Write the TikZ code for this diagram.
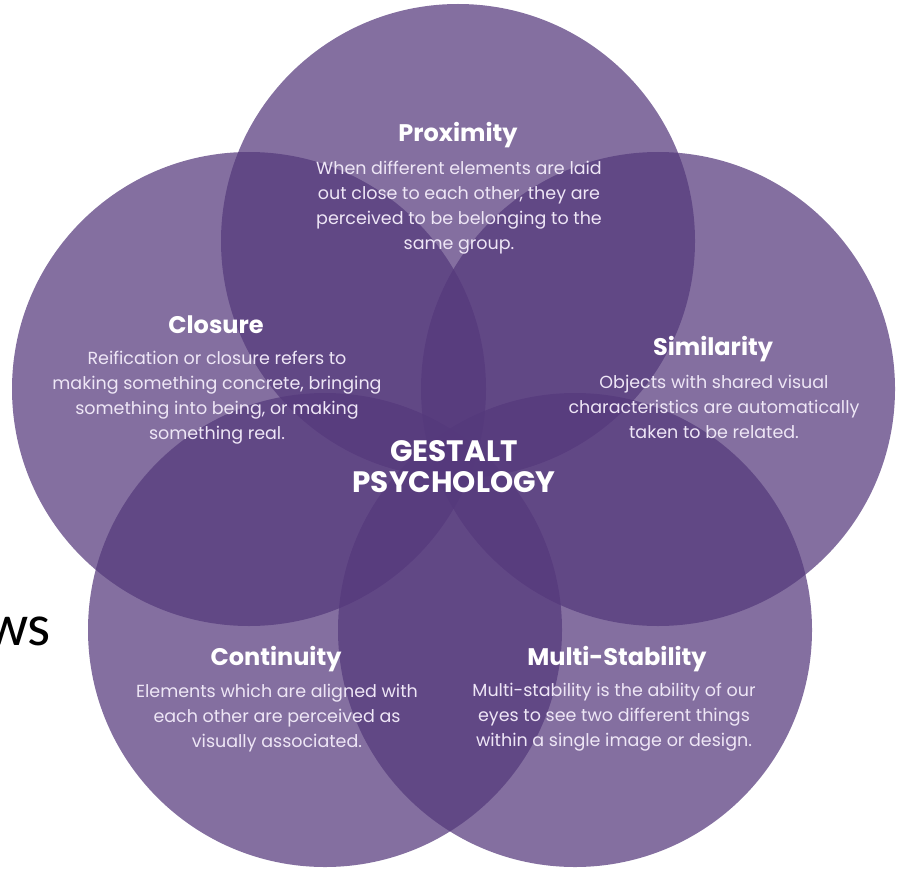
\documentclass[tikz,border=0pt]{standalone}
\usepackage{fontspec}
\setmainfont{Poppins}
\newfontfamily\sidefont{Carlito}
\definecolor{petal}{HTML}{54387B}
\definecolor{blurbink}{HTML}{EEE6F6}
\tikzset{
  petal/.style={fill=petal, fill opacity=0.72},
  heading/.style={text=white, font=\fontsize{24}{28}\selectfont\bfseries, inner sep=0pt, anchor=base},
  blurb/.style={text=blurbink, font=\fontsize{17.5}{25}\selectfont, align=center, inner sep=0pt},
  core/.style={text=white, font=\fontsize{29.5}{31}\selectfont\bfseries, align=center, inner sep=0pt},
}
\begin{document}
\begin{tikzpicture}[x=1pt,y=-1pt]
\useasboundingbox (0,0) rectangle (901,869);

% five overlapping petals
\fill[petal] (458,241) circle (237pt);
\fill[petal] (249,389) circle (237pt);
\fill[petal] (658,389) circle (237pt);
\fill[petal] (325,630) circle (237pt);
\fill[petal] (575,630) circle (237pt);

% fragment of a word at the left edge
\node[anchor=base east, inner sep=0pt, font=\sidefont\fontsize{59}{60}\selectfont] (side) at (51,645) {ws};

% headings
\node[heading] (proxT) at (458,142) {Proximity};
\node[heading] (closT) at (216,333) {Closure};
\node[heading] (simT) at (713,355) {Similarity};
\node[heading] (contT) at (276,665) {Continuity};
\node[heading] (multT) at (617,665) {Multi-Stability};

% descriptions
\node[blurb] (proxB) at (459,208) {When different elements are laid\\out close to each other, they are\\perceived to be belonging to the\\same group.};
\node[blurb] (closB) at (217,398) {Reification or closure refers to\\making something concrete, bringing\\something into being, or making\\something real.};
\node[blurb] (simB) at (714,407) {Objects with shared visual\\characteristics are automatically\\taken to be related.};
\node[blurb] (contB) at (277,718) {Elements which are aligned with\\each other are perceived as\\visually associated.};
\node[blurb] (multB) at (614,717) {Multi-stability is the ability of our\\eyes to see two different things\\within a single image or design.};

% centre title
\node[core] (core) at (454,467) {GESTALT\\PSYCHOLOGY};
\end{tikzpicture}
\end{document}
